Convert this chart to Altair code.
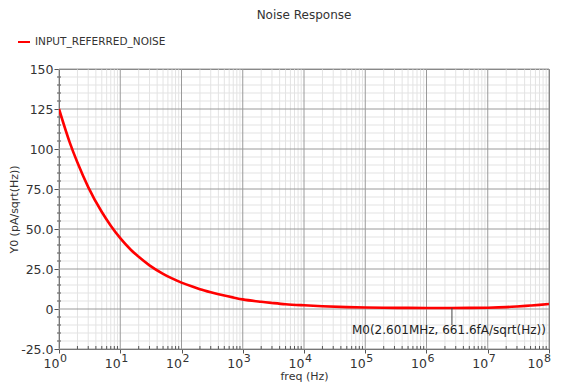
import altair as alt
import pandas as pd

# ---- data ----
freq_hz = [1, 1.5, 2, 3, 5, 7, 10, 15, 20, 30, 50, 70, 100, 150, 200, 300, 500, 700,
           1e3, 2e3, 3e3, 5e3, 1e4, 2e4, 5e4, 1e5, 2e5, 5e5, 1e6, 2.601e6, 5e6,
           1e7, 1.5e7, 2e7, 3e7, 5e7, 7e7, 1e8]
noise_pa = [125, 104, 91.5, 76.2, 60.6, 52.1, 44.3, 36.9, 32.6, 27.3, 22.0, 19.1,
            16.5, 14.0, 12.4, 10.5, 8.4, 7.2, 6.0, 4.5, 3.8, 3.0, 2.3, 1.75, 1.2,
            0.95, 0.8, 0.7, 0.67, 0.6616, 0.68, 0.8, 1.0, 1.2, 1.6, 2.2, 2.6, 3.1]
series_name = ["INPUT_REFERRED_NOISE"]

marker_freq = [2.601e6]
marker_val = [0.6616]
marker_stem_end = [-10]
marker_label = ["M0(2.601MHz, 661.6fA/sqrt(Hz))"]

x_major = [1e0, 1e1, 1e2, 1e3, 1e4, 1e5, 1e6, 1e7, 1e8]
x_tick_base = "10"
x_tick_exponents = ["0", "1", "2", "3", "4", "5", "6", "7", "8"]
x_minor_mult = [2, 3, 4, 5, 6, 7, 8, 9]

y_major = [-25, 0, 25, 50, 75, 100, 125, 150]
y_tick_labels = ["-25.0", "0", "25.0", "50.0", "75.0", "100", "125", "150"]
y_minor = [v for v in range(-25, 151, 5) if v not in y_major]

x_minor = [m * d for d in x_major[:-1] for m in x_minor_mult]

W, H = 490, 280
FONT = "DejaVu Sans"
TXT = "#333333"

line_df = pd.DataFrame({"f": freq_hz, "v": noise_pa, "series": series_name[0]})
mk_df = pd.DataFrame({"f": marker_freq, "v": marker_val, "v2": marker_stem_end, "label": marker_label})
xmaj_df = pd.DataFrame({"f": x_major, "exp": x_tick_exponents})
xmin_df = pd.DataFrame({"f": x_minor})
ymaj_df = pd.DataFrame({"v": y_major})
ymin_df = pd.DataFrame({"v": y_minor})

ylab_expr = ""
for val, lab in zip(y_major, y_tick_labels):
    ylab_expr += f"datum.value == {val} ? '{lab}' : "
ylab_expr += "''"

xscale = alt.Scale(type="log", domain=[x_major[0], x_major[-1]])
yscale = alt.Scale(domain=[y_major[0], y_major[-1]], nice=False, zero=False)

x_axis = alt.Axis(values=x_major, labelExpr=f"'{x_tick_base}'", grid=False,
                  title="freq (Hz)", titleFontWeight="normal", titleFontSize=11,
                  titleColor=TXT, titleBaseline="bottom", titleY=32.5,
                  labelFontSize=12.5, labelColor=TXT, labelAlign="right",
                  labelOffset={"condition": {"test": "datum.value >= 1e8", "value": -6}, "value": 0},
                  labelPadding=4, tickSize=4, tickColor="#555", domainColor="#555",
                  labelFlush=False)
y_axis = alt.Axis(values=y_major, labelExpr=ylab_expr, grid=False,
                  title="Y0 (pA/sqrt(Hz))", titleFontWeight="normal", titleFontSize=11,
                  titleColor=TXT, labelFontSize=12.5, labelColor=TXT,
                  labelPadding=1, tickSize=5, tickColor="#555", domainColor="#555",
                  titlePadding=1)

X = alt.X("f:Q", scale=xscale, axis=x_axis)
Y = alt.Y("v:Q", scale=yscale, axis=y_axis)

minor_v = alt.Chart(xmin_df).mark_rule(color="#e3e3e3", strokeWidth=1).encode(x=X)
minor_h = alt.Chart(ymin_df).mark_rule(color="#e3e3e3", strokeWidth=1).encode(y=Y)
major_v = alt.Chart(xmaj_df).mark_rule(color="#9a9a9a", strokeWidth=1).encode(x=X)
major_h = alt.Chart(ymaj_df).mark_rule(color="#9a9a9a", strokeWidth=1).encode(y=Y)

minor_tick_y = alt.Chart(ymin_df).mark_rule(color="#555").encode(
    y=Y, x=alt.value(-2), x2=alt.value(2))
minor_tick_x = alt.Chart(xmin_df).mark_rule(color="#555").encode(
    x=X, y=alt.value(H - 3), y2=alt.value(H))

exp_text = alt.Chart(xmaj_df[xmaj_df["f"] < 1e8]).mark_text(
    font=FONT, fontSize=11, color=TXT, align="left", baseline="alphabetic", dx=1
).encode(x=X, y=alt.value(H + 13), text="exp:N")
exp_text_last = alt.Chart(xmaj_df[xmaj_df["f"] >= 1e8]).mark_text(
    font=FONT, fontSize=11, color=TXT, align="left", baseline="alphabetic", dx=-5
).encode(x=X, y=alt.value(H + 13), text="exp:N")

curve = alt.Chart(line_df).mark_line(strokeWidth=2.6, clip=True, interpolate="monotone").encode(
    x=X, y=Y,
    color=alt.Color("series:N",
                    scale=alt.Scale(domain=series_name, range=["#ff0000"]),
                    legend=alt.Legend(orient="none", legendX=-42, legendY=-34, title=None,
                                      symbolType="stroke", symbolSize=144,
                                      symbolStrokeWidth=2, labelFontSize=10.5,
                                      labelColor=TXT, labelOffset=4, padding=0)))

stem = alt.Chart(mk_df).mark_rule(color="#444", strokeWidth=1).encode(
    x=X, y=Y, y2="v2:Q")
mk_text = alt.Chart(mk_df).mark_text(
    font=FONT, fontSize=12, color="#222", align="center", baseline="top", dy=17, dx=-3
).encode(x=X, y=Y, text="label:N")

chart = alt.layer(
    minor_v, minor_h, major_v, major_h, minor_tick_y, minor_tick_x,
    curve, stem, mk_text, exp_text, exp_text_last
).properties(
    width=W, height=H,
    title=alt.TitleParams("Noise Response", fontSize=12, fontWeight="normal",
                          color=TXT, font=FONT, offset=13),
    autosize=alt.AutoSizeParams(type="none"),
    padding={"left": 51, "top": 61, "right": 5, "bottom": 33},
    background="white",
).configure(font=FONT).configure_view(stroke="#777", strokeWidth=1)

chart.save("out.html", embed_options={"renderer": "svg", "actions": False})
